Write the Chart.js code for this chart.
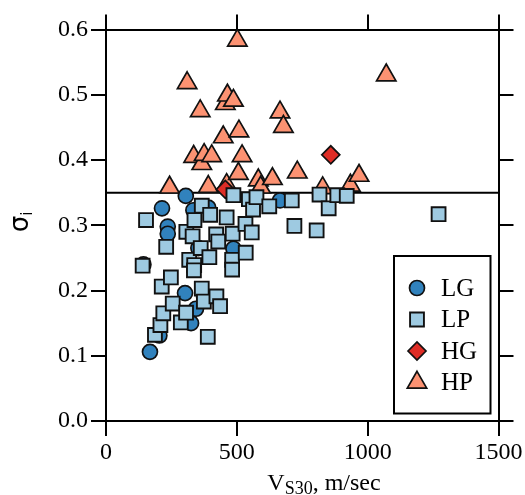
<!DOCTYPE html>
<html><head><meta charset="utf-8">
<script src="https://cdn.jsdelivr.net/npm/chart.js@4/dist/chart.umd.min.js"></script>
<style>html,body{margin:0;padding:0;background:#fff;overflow:hidden}</style>
</head><body>
<canvas id="c" width="525" height="495"></canvas>
<script>
// ---- data ----
const xTicks = [0, 500, 1000, 1500];
const yTicks = [0.0, 0.1, 0.2, 0.3, 0.4, 0.5, 0.6];
const threshold = 0.35;
const seriesNames = ['LG', 'LP', 'HG', 'HP'];

const lgVs    = [168, 204, 214, 236, 236, 143, 302, 305, 325, 334, 344, 353, 375, 391, 487, 665];
const lgSigma = [0.106, 0.131, 0.326, 0.298, 0.287, 0.240, 0.196, 0.345, 0.150, 0.323, 0.172, 0.265, 0.190, 0.327, 0.264, 0.338];

const lpVs    = [140, 153, 187, 208, 213, 219, 230, 248, 255, 286, 306, 307, 318, 331, 338, 337, 336, 362, 366, 366, 374, 389, 395, 398, 422, 421, 429, 436, 461, 482, 482, 484, 487, 533, 534, 546, 557, 562, 575, 624, 710, 720, 805, 816, 851, 884, 920, 1271];
const lpSigma = [0.238, 0.308, 0.132, 0.147, 0.206, 0.165, 0.267, 0.220, 0.180, 0.151, 0.166, 0.290, 0.247, 0.283, 0.308, 0.239, 0.231, 0.265, 0.330, 0.203, 0.183, 0.129, 0.251, 0.316, 0.191, 0.286, 0.275, 0.176, 0.312, 0.247, 0.232, 0.287, 0.346, 0.302, 0.258, 0.340, 0.289, 0.324, 0.343, 0.329, 0.338, 0.299, 0.292, 0.347, 0.326, 0.346, 0.345, 0.317];

const hgVs    = [456, 859];
const hgSigma = [0.355, 0.408];

const hpVs    = [243, 310, 335, 360, 366, 375, 391, 404, 448, 456, 461, 464, 487, 502, 506, 508, 520, 582, 591, 636, 665, 678, 731, 828, 934, 967, 1071];
const hpSigma = [0.358, 0.518, 0.405, 0.475, 0.394, 0.408, 0.359, 0.406, 0.435, 0.486, 0.362, 0.499, 0.491, 0.583, 0.379, 0.444, 0.406, 0.369, 0.358, 0.371, 0.473, 0.451, 0.381, 0.357, 0.361, 0.376, 0.530];

// ---- build ----
const pts = (xs, ys) => xs.map((x, i) => ({x: x, y: ys[i]}));
const SERIF = "'Liberation Serif', 'Times New Roman', serif";

const datasets = [
  {label: 'LG', data: pts(lgVs, lgSigma), pointStyle: 'circle', pointRadius: 7.5,
   backgroundColor: '#3182bd', borderColor: '#111', pointBorderWidth: 1.7, order: 1},
  {label: 'LP', data: pts(lpVs, lpSigma), pointStyle: 'rect', pointRadius: 9.8,
   backgroundColor: '#9ecae1', borderColor: '#111', pointBorderWidth: 1.9, order: 0},
  {label: 'HG', data: pts(hgVs, hgSigma), pointStyle: 'rectRot', pointRadius: 9,
   backgroundColor: '#de2d26', borderColor: '#111', pointBorderWidth: 1.7, order: 2},
  {label: 'HP', data: pts(hpVs, hpSigma), pointStyle: 'triangle', pointRadius: 11.2,
   backgroundColor: '#fc9272', borderColor: '#111', pointBorderWidth: 1.7, order: 3},
  {type: 'line', label: 'threshold', data: [{x: xTicks[0], y: threshold}, {x: xTicks[xTicks.length - 1], y: threshold}],
   borderColor: '#000', borderWidth: 2, pointRadius: 0, fill: false, order: 5}
];

const tickGrid = {display: true, drawOnChartArea: false, drawTicks: true, tickLength: 15, color: '#000', lineWidth: 2};
const border = {display: true, color: '#000', width: 2};
const setTicks = (arr) => (s) => { s.ticks = arr.map(v => ({value: v})); };

const overlay = {
  id: 'overlay',
  afterDraw(chart) {
    const ctx = chart.ctx, a = chart.chartArea;
    ctx.save();
    // legend box
    const bx = a.right - 104.5, by = a.bottom - 165, bw = 96.5, bh = 157.5;
    ctx.fillStyle = '#fff';
    ctx.fillRect(bx, by, bw, bh);
    ctx.strokeStyle = '#000'; ctx.lineWidth = 2;
    ctx.strokeRect(bx, by, bw, bh);
    ctx.font = '25px ' + SERIF;
    ctx.textBaseline = 'middle';
    ctx.textAlign = 'left';
    seriesNames.forEach((name, i) => {
      const ds = chart.data.datasets.find(d => d.label === name);
      const y = by + 32 + i * 31.5;
      const x = bx + 23;
      ctx.fillStyle = ds.backgroundColor;
      ctx.strokeStyle = ds.borderColor;
      ctx.lineWidth = ds.pointBorderWidth;
      Chart.helpers.drawPoint(ctx, {pointStyle: ds.pointStyle, radius: ds.pointRadius, rotation: 0, borderWidth: ds.pointBorderWidth}, x, y);
      ctx.fillStyle = '#000';
      ctx.fillText(name, bx + 47, y + 1);
    });
    // x title with subscript
    ctx.fillStyle = '#000';
    ctx.textBaseline = 'alphabetic';
    const big = '24px ' + SERIF, small = '18px ' + SERIF;
    ctx.font = big; const w1 = ctx.measureText('V').width;
    ctx.font = small; const w2 = ctx.measureText('S30').width;
    ctx.font = big; const w3 = ctx.measureText(', m/sec').width;
    let tx = 324 - (w1 + w2 + w3) / 2, ty = 490;
    ctx.font = big; ctx.fillText('V', tx, ty); tx += w1;
    ctx.font = small; ctx.fillText('S30', tx, ty + 4); tx += w2;
    ctx.font = big; ctx.fillText(', m/sec', tx, ty);
    // y title sigma_i rotated
    ctx.translate(28, 222);
    ctx.rotate(-Math.PI / 2);
    ctx.font = "26px 'DejaVu Sans', sans-serif";
    const ws = ctx.measureText('σ').width;
    ctx.font = "15px 'DejaVu Sans', sans-serif";
    const wi = ctx.measureText('i').width;
    let sx = -(ws + wi) / 2;
    ctx.font = "26px 'DejaVu Sans', sans-serif";
    ctx.fillText('σ', sx, 0);
    ctx.font = "15px 'DejaVu Sans', sans-serif";
    ctx.fillText('i', sx + ws, 4);
    ctx.restore();
  }
};

new Chart(document.getElementById('c'), {
  type: 'scatter',
  data: {datasets: datasets},
  options: {
    responsive: false,
    animation: false,
    devicePixelRatio: 1,
    layout: {padding: 0},
    plugins: {legend: {display: false}, tooltip: {enabled: false}},
    scales: {
      x: {type: 'linear', position: 'bottom', min: xTicks[0], max: xTicks[xTicks.length - 1],
          afterBuildTicks: setTicks(xTicks),
          ticks: {color: '#000', font: {family: SERIF, size: 24}, padding: 2, maxRotation: 0, callback: v => String(v)},
          grid: tickGrid, border: border,
          afterFit: s => { s.height = 74; }},
      y: {type: 'linear', position: 'left', min: yTicks[0], max: yTicks[yTicks.length - 1],
          afterBuildTicks: setTicks(yTicks),
          ticks: {color: '#000', font: {family: SERIF, size: 24}, padding: 3, callback: v => Number(v).toFixed(1)},
          grid: tickGrid, border: border,
          afterFit: s => { s.width = 106; }},
      x2: {type: 'linear', position: 'top', min: xTicks[0], max: xTicks[xTicks.length - 1],
          afterBuildTicks: setTicks(xTicks),
          ticks: {display: false}, grid: tickGrid, border: border,
          afterFit: s => { s.height = 29.5; }},
      y2: {type: 'linear', position: 'right', min: yTicks[0], max: yTicks[yTicks.length - 1],
          afterBuildTicks: setTicks(yTicks),
          ticks: {display: false}, grid: tickGrid, border: border,
          afterFit: s => { s.width = 26.5; }}
    }
  },
  plugins: [overlay]
});
</script>
</body></html>
